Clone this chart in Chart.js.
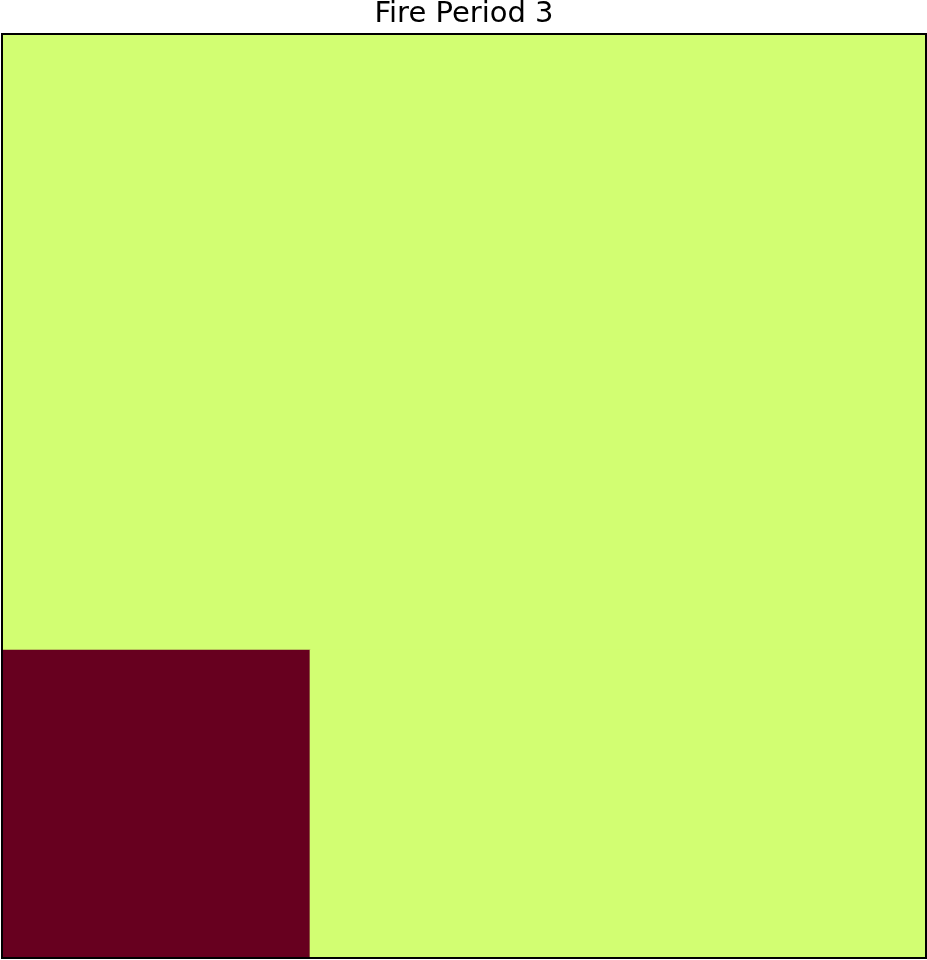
<!DOCTYPE html>
<html>
<head>
<meta charset="utf-8">
<script src="https://cdn.jsdelivr.net/npm/chart.js@4"></script>
<style>
  html, body { margin: 0; padding: 0; background: #ffffff; }
  #wrap { width: 927px; height: 960px; }
</style>
</head>
<body>
<div id="wrap"><canvas id="c" width="927" height="960"></canvas></div>
<script>
// Grid columns (left to right)
const columns = ["0", "1", "2"];
// Grid rows (bottom to top)
const rows = ["0", "1", "2"];
// Cell states per row (bottom to top), per column: 1 = burned, 0 = unburned
const stateRow0 = [1, 0, 0];
const stateRow1 = [0, 0, 0];
const stateRow2 = [0, 0, 0];
const stateRows = [stateRow0, stateRow1, stateRow2];
// Colours for states
const stateColors = ["#d2fe72", "#67001f"];
const chartTitle = "Fire Period 3";

const datasets = rows.map((r, i) => ({
  label: "row " + r,
  data: columns.map(() => 1),
  backgroundColor: stateRows[i].map(s => stateColors[s]),
  borderColor: stateRows[i].map(s => stateColors[s]),
  borderWidth: 0,
  barPercentage: 1,
  categoryPercentage: 1,
  borderSkipped: false
}));

const borderPlugin = {
  id: 'frame',
  afterDatasetsDraw(chart) {
    const a = chart.chartArea;
    const ctx = chart.ctx;
    ctx.save();
    ctx.strokeStyle = '#000';
    ctx.lineWidth = 2;
    ctx.strokeRect(a.left, a.top, a.right - a.left, a.bottom - a.top);
    ctx.restore();
  }
};

new Chart(document.getElementById('c'), {
  type: 'bar',
  data: { labels: columns, datasets },
  options: {
    responsive: false,
    animation: false,
    layout: { padding: { left: 2, right: 1, top: 0, bottom: 2 } },
    scales: {
      x: { stacked: true, display: false },
      y: { stacked: true, display: false, min: 0, max: rows.length }
    },
    plugins: {
      legend: { display: false },
      tooltip: { enabled: false },
      title: {
        display: true,
        text: chartTitle,
        color: '#000',
        font: { family: 'DejaVu Sans', size: 29, weight: 'normal', lineHeight: 1.0 },
        padding: { top: 0, bottom: 5 }
      }
    }
  },
  plugins: [borderPlugin]
});
</script>
</body>
</html>
